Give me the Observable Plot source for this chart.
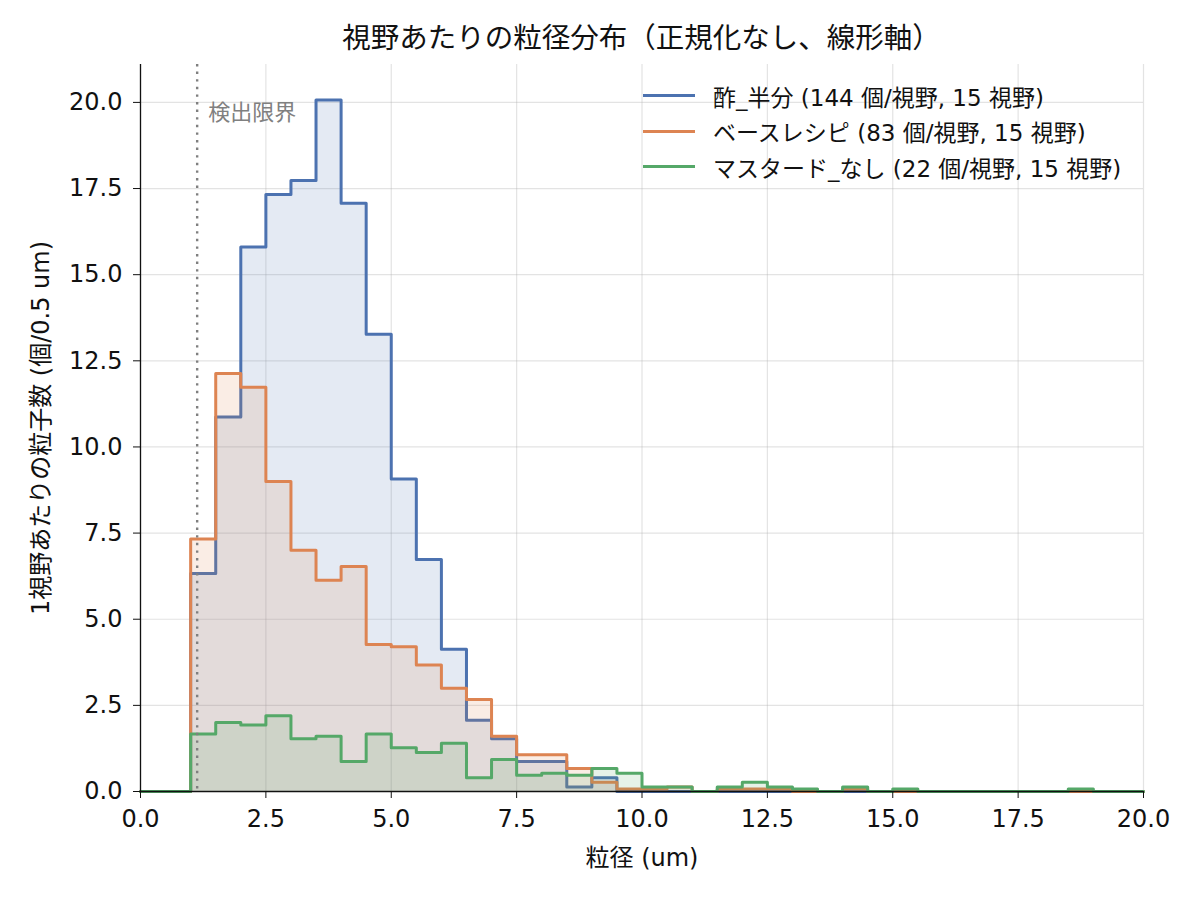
<!DOCTYPE html>
<html>
<head>
<meta charset="utf-8">
<script src="https://cdn.jsdelivr.net/npm/d3@7"></script>
<script src="https://cdn.jsdelivr.net/npm/@observablehq/plot@0.6"></script>
<style>
  html, body { margin: 0; padding: 0; background: #fff; }
  #wrap { position: relative; width: 1200px; height: 900px; overflow: hidden;
          font-family: "DejaVu Sans", "Noto Sans CJK JP", sans-serif; color: #111; }
  #title { height: 60px; width: 1200px; box-sizing: border-box; padding-left: 83px;
           text-align: center; font-size: 28.5px; line-height: 78px; white-space: nowrap; }
  #legend { position: absolute; left: 643px; top: 78px; font-size: 23px; }
  .row { display: flex; align-items: center; height: 35.5px; white-space: nowrap; }
  .sw { width: 52px; height: 0; border-top: 3px solid; margin-right: 18px; }
</style>
</head>
<body>
<div id="wrap">
  <div id="title"></div>
  <div id="chart"></div>
  <div id="legend"></div>
</div>
<script>
// ---- data (per 0.5 um bin, 0–20 um, counts per field of view) ----
const binWidth = 0.5;
const xTicks = [0, 2.5, 5, 7.5, 10, 12.5, 15, 17.5, 20];
const yTicks = [0, 2.5, 5, 7.5, 10, 12.5, 15, 17.5, 20];
const seriesNames = ["酢_半分 (144 個/視野, 15 視野)", "ベースレシピ (83 個/視野, 15 視野)", "マスタード_なし (22 個/視野, 15 視野)"];
const seriesColors = ["#4c72b0", "#dd8452", "#55a868"];
const suHalf = [
  0, 0, 6.33, 10.87, 15.8, 17.33, 17.73, 20.07, 17.07, 13.27,
  9.07, 6.73, 4.13, 2.07, 1.53, 0.87, 0.87, 0.13, 0.4, 0,
  0, 0, 0, 0, 0, 0, 0, 0, 0, 0,
  0, 0, 0, 0, 0, 0, 0, 0, 0, 0
];
const baseRecipe = [
  0, 0, 7.33, 12.13, 11.73, 9.0, 7.0, 6.13, 6.53, 4.27,
  4.2, 3.67, 3.0, 2.67, 1.6, 1.07, 1.07, 0.67, 0.27, 0.07,
  0.07, 0.13, 0, 0.07, 0.07, 0.07, 0, 0, 0.07, 0,
  0, 0, 0, 0, 0, 0, 0, 0, 0, 0
];
const noMustard = [
  0, 0, 1.67, 2.0, 1.93, 2.2, 1.53, 1.6, 0.87, 1.67,
  1.27, 1.13, 1.4, 0.4, 0.93, 0.47, 0.53, 0.47, 0.67, 0.53,
  0.13, 0.13, 0, 0.13, 0.27, 0.13, 0.07, 0, 0.13, 0,
  0.07, 0, 0, 0, 0, 0, 0, 0.07, 0, 0
];
const detectionLimit = 1.13;
const titleText = "視野あたりの粒径分布（正規化なし、線形軸）";
const xLabel = "粒径 (um)";
const yLabel = "1視野あたりの粒子数 (個/0.5 um)";
const limitLabel = "検出限界";

// ---- build step tables ----
const allSeries = [suHalf, baseRecipe, noMustard];
function steps(vals) {
  const pts = vals.map((v, i) => ({x: i * binWidth, y: v}));
  pts.push({x: vals.length * binWidth, y: vals[vals.length - 1]});
  return pts;
}
const tables = allSeries.map(steps);

const FONT = '"DejaVu Sans", "Noto Sans CJK JP", sans-serif';
const marks = [
  Plot.gridX(xTicks, {stroke: "#b0b0b0", strokeOpacity: 0.35, strokeWidth: 1.2}),
  Plot.gridY(yTicks, {stroke: "#b0b0b0", strokeOpacity: 0.35, strokeWidth: 1.2})
];
tables.forEach((t, i) => {
  marks.push(Plot.areaY(t, {x: "x", y: "y", curve: "step-after", fill: seriesColors[i], fillOpacity: 0.15}));
  marks.push(Plot.lineY(t, {x: "x", y: "y", curve: "step-after", stroke: seriesColors[i], strokeWidth: 3}));
});
marks.push(
  Plot.ruleX([detectionLimit], {stroke: "#7f7f7f", strokeWidth: 2.4, strokeDasharray: "2.4,5.2"}),
  Plot.text([limitLabel], {x: detectionLimit, y: 19.7, text: d => d, dx: 11, textAnchor: "start",
    lineAnchor: "middle", fill: "#808080", fontSize: 22, fontFamily: FONT}),
  Plot.axisX(xTicks, {tickFormat: d3.format(".1f"), tickSize: 7, tickPadding: 11, fontSize: 24, label: null, stroke: "#111"}),
  Plot.axisY(yTicks, {tickFormat: d3.format(".1f"), tickSize: 7, tickPadding: 11, fontSize: 24, label: null, stroke: "#111"}),
  Plot.ruleX([0], {stroke: "#111", strokeWidth: 1.3}),
  Plot.ruleY([0], {stroke: "#111", strokeWidth: 1.3}),
  Plot.text([xLabel], {frameAnchor: "bottom", dy: 67, text: d => d, textAnchor: "middle", lineAnchor: "middle", fontSize: 24, fontFamily: FONT, fill: "#111"}),
  Plot.text([yLabel], {frameAnchor: "left", dx: -99, rotate: -90, text: d => d, textAnchor: "middle", lineAnchor: "middle", fontSize: 24, fontFamily: FONT, fill: "#111"})
);

const chart = Plot.plot({
  width: 1200,
  height: 840,
  marginTop: 4,
  marginBottom: 109,
  marginLeft: 140,
  marginRight: 57,
  x: {domain: [0, 20], axis: null},
  y: {domain: [0, 21.1], axis: null},
  style: {fontFamily: FONT, fontSize: "24px", color: "#111", background: "#fff", overflow: "visible"},
  marks
});
document.getElementById("chart").appendChild(chart);
document.getElementById("title").textContent = titleText;

const legend = document.getElementById("legend");
seriesNames.forEach((name, i) => {
  const row = document.createElement("div");
  row.className = "row";
  const sw = document.createElement("div");
  sw.className = "sw";
  sw.style.borderTopColor = seriesColors[i];
  const lab = document.createElement("span");
  lab.textContent = name;
  row.appendChild(sw);
  row.appendChild(lab);
  legend.appendChild(row);
});
</script>
</body>
</html>
